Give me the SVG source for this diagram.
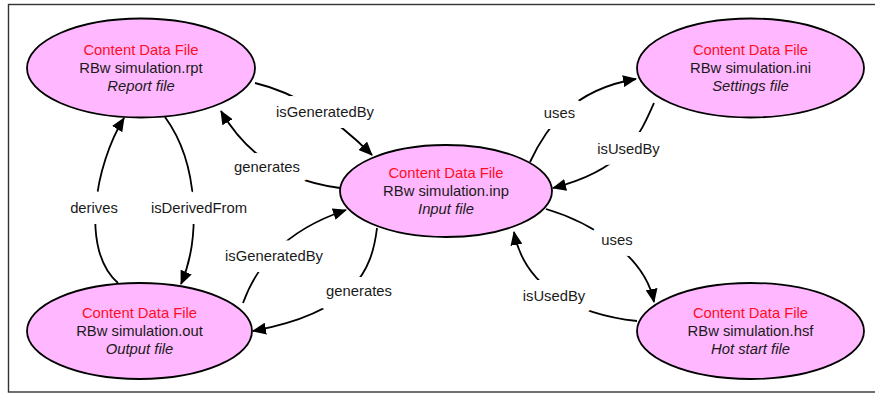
<svg xmlns="http://www.w3.org/2000/svg" width="875" height="393" viewBox="0 0 875 393">
<defs>
<marker id="arr" markerUnits="userSpaceOnUse" markerWidth="14" markerHeight="12" viewBox="0 0 14 12" refX="13" refY="6" orient="auto">
<path d="M0,0 L14,6 L0,12 Z" fill="#000"/>
</marker>
<style>
.frame{fill:none;stroke:#333;stroke-width:1.4}
.node ellipse{fill:#FFB8FF;stroke:#000;stroke-width:1.8}
.t{font-family:"Liberation Sans",Arial,sans-serif;font-size:14.8px;text-anchor:middle;fill:#1a1a1a}
.red{fill:#FF0D1F}
.it{font-style:italic}
.edges path{fill:none;stroke:#000;stroke-width:1.8;marker-end:url(#arr)}
.lbl{font-family:"Liberation Sans",Arial,sans-serif;font-size:14.8px;text-anchor:middle;fill:#1a1a1a;stroke:#fff;stroke-width:22;stroke-linejoin:round;paint-order:stroke}
</style>
</defs>
<rect class="frame" x="8.5" y="4.5" width="880" height="387.5"/>
<g id="edges" class="edges">
<path d="M255,83 Q314,97 372,155"/>
<path d="M340,188 Q260,178 221,111"/>
<path d="M165,117 C200,165 200,240 181,284"/>
<path d="M118,283 C80,250 95,165 124,118"/>
<path d="M243,303 C255,270 280,232 346,210"/>
<path d="M377,228 C372,270 355,312 253,331"/>
<path d="M530,162 C545,130 570,90 636,79"/>
<path d="M654,103 C640,135 625,170 553,188"/>
<path d="M546,209 C590,222 645,255 654,302"/>
<path d="M637,321 C580,315 525,290 514,232"/>
</g>
<g id="labels">
<text class="lbl" x="325" y="117">isGeneratedBy</text>
<text class="lbl" x="267" y="172">generates</text>
<text class="lbl" x="94" y="213">derives</text>
<text class="lbl" x="199" y="213">isDerivedFrom</text>
<text class="lbl" x="274" y="261">isGeneratedBy</text>
<text class="lbl" x="359" y="296">generates</text>
<text class="lbl" x="559.5" y="118">uses</text>
<text class="lbl" x="628.5" y="154">isUsedBy</text>
<text class="lbl" x="617" y="245">uses</text>
<text class="lbl" x="554" y="301">isUsedBy</text>
</g>
<g id="report" class="node">
<ellipse cx="141" cy="68" rx="114" ry="49.5"/>
<text class="t red" x="141" y="55">Content Data File</text>
<text class="t" x="141" y="73">RBw simulation.rpt</text>
<text class="t it" x="141" y="91">Report file</text>
</g>
<g id="settings" class="node">
<ellipse cx="750.5" cy="68" rx="113.5" ry="49.5"/>
<text class="t red" x="750.5" y="55">Content Data File</text>
<text class="t" x="750.5" y="73">RBw simulation.ini</text>
<text class="t it" x="750.5" y="91">Settings file</text>
</g>
<g id="input" class="node">
<ellipse cx="446" cy="191" rx="106" ry="46"/>
<text class="t red" x="446" y="178">Content Data File</text>
<text class="t" x="446" y="196">RBw simulation.inp</text>
<text class="t it" x="446" y="214">Input file</text>
</g>
<g id="output" class="node">
<ellipse cx="139.5" cy="331" rx="112.5" ry="48"/>
<text class="t red" x="139.5" y="318">Content Data File</text>
<text class="t" x="139.5" y="336">RBw simulation.out</text>
<text class="t it" x="139.5" y="354">Output file</text>
</g>
<g id="hotstart" class="node">
<ellipse cx="750.5" cy="331" rx="113.5" ry="48"/>
<text class="t red" x="750.5" y="318">Content Data File</text>
<text class="t" x="750.5" y="336">RBw simulation.hsf</text>
<text class="t it" x="750.5" y="354">Hot start file</text>
</g>
</svg>
